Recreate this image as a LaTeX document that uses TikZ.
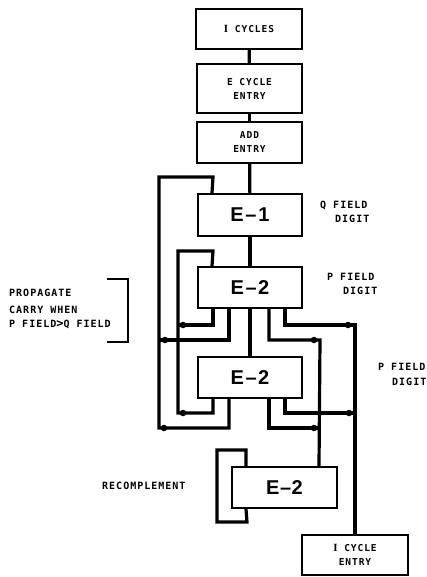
\documentclass[tikz,border=0pt]{standalone}
\usepackage{fontspec}
\setmainfont{Liberation Sans}
\newfontfamily\labf[LetterSpace=10]{DejaVu Sans Mono}
\newfontfamily\serifI{Liberation Serif}
\usetikzlibrary{calc}
\begin{document}
\begin{tikzpicture}[x=1pt,y=-1pt,
  box/.style={draw,line width=2pt,minimum width=105pt,minimum height=41pt,inner sep=0pt,align=center,font=\labf\bfseries\fontsize{9.5}{14}\selectfont},
  ebox/.style={box,minimum width=104pt,font=\bfseries\fontsize{20}{20}\selectfont},
  wire/.style={line width=3.2pt,line join=miter},
  lab/.style={anchor=west,inner sep=0pt,font=\labf\bfseries\fontsize{10}{10}\selectfont},
  jdot/.style={fill,circle,inner sep=0pt,minimum size=6.5pt}]
\useasboundingbox (0,0) rectangle (427,577);
% boxes
\node[box,minimum width=106pt,minimum height=40pt] (ic) at (249,29) {{\serifI\bfseries\fontsize{11}{14}\selectfont I}\ CYCLES};
\node[box,minimum height=49pt] (ece) at (249.5,88.5) {E CYCLE\\ENTRY};
\node[box] (add) at (249.5,142.5) {ADD\\ENTRY};
\node[ebox,minimum height=42pt] (e1) at (250,215) {E\kern1.5pt--\kern2pt1};
\node[ebox] (e2a) at (250,287.5) {E\kern1.5pt--\kern1.5pt2};
\node[ebox] (e2b) at (250,377.5) {E\kern1.5pt--\kern1.5pt2};
\node[ebox,minimum width=105pt] (e2c) at (284.5,487.5) {E\kern0.5pt--\kern0.5pt2};
\node[box,minimum width=106pt,minimum height=40pt] (ice) at (355,555) {{\serifI\bfseries\fontsize{11}{14}\selectfont I}\ CYCLE\\ENTRY};
% main spine
\draw[wire] (ic) -- (ece);
\draw[wire] (ece) -- (add);
\draw[wire] (add) -- (e1);
\draw[wire] (e1) -- (e2a);
\draw[wire] (e2a) -- (e2b);
% outer loop
\draw[wire] ([xshift=32pt]e2b.south west) |- (159,428) |- (213,177) -- ([xshift=15pt]e1.north west);
\draw[wire] ([xshift=32pt]e2a.south west) |- (159,340);
% inner loop
\draw[wire] ([xshift=16pt]e2b.south west) |- (178,413) |- (213,251) -- ([xshift=15pt]e2a.north west);
\draw[wire] ([xshift=16pt]e2a.south west) |- (178,325);
% right tracks
\draw[wire] ([xshift=72pt]e2a.south west) |- (320,340) -- ([xshift=88pt]e2c.north west);
\draw[wire] ([xshift=72pt]e2b.south west) |- (320,428);
\draw[wire] ([xshift=88pt]e2a.south west) |- (355,325) -- (ice.north);
\draw[wire] ([xshift=88pt]e2b.south west) |- (355,413);
% recomplement loop
\draw[wire] ([xshift=15pt]e2c.north west) |- (217,450) |- (247,522) -- ([xshift=15pt]e2c.south west);
% junction dots
\node[jdot] (d1) at (164,428) {};
\node[jdot] (d2) at (165,340) {};
\node[jdot] (d3) at (183,413) {};
\node[jdot] (d4) at (183,325) {};
\node[jdot] (d5) at (314,340) {};
\node[jdot] (d6) at (314,428) {};
\node[jdot] (d7) at (348,325) {};
\node[jdot] (d8) at (349,413) {};
% labels
\node[lab] (q1) at (320,205) {Q FIELD};
\node[lab] (q2) at (335,219) {DIGIT};
\node[lab] (p1) at (327,277) {P FIELD};
\node[lab] (p2) at (343,291) {DIGIT};
\node[lab] (p3) at (378,367) {P FIELD};
\node[lab] (p4) at (392,382) {DIGIT};
\node[lab] (pr1) at (9,293) {PROPAGATE};
\node[lab] (pr2) at (9,310) {CARRY WHEN};
\node[lab] (pr3) at (9,324) {P FIELD{\fontsize{12}{10}\selectfont>}Q FIELD};
\node[lab] (rc) at (102,486) {RECOMPLEMENT};
% bracket
\draw[line width=2pt] (107,279) -- (128,279) -- (128,342) -- (107,342);
\end{tikzpicture}
\end{document}
